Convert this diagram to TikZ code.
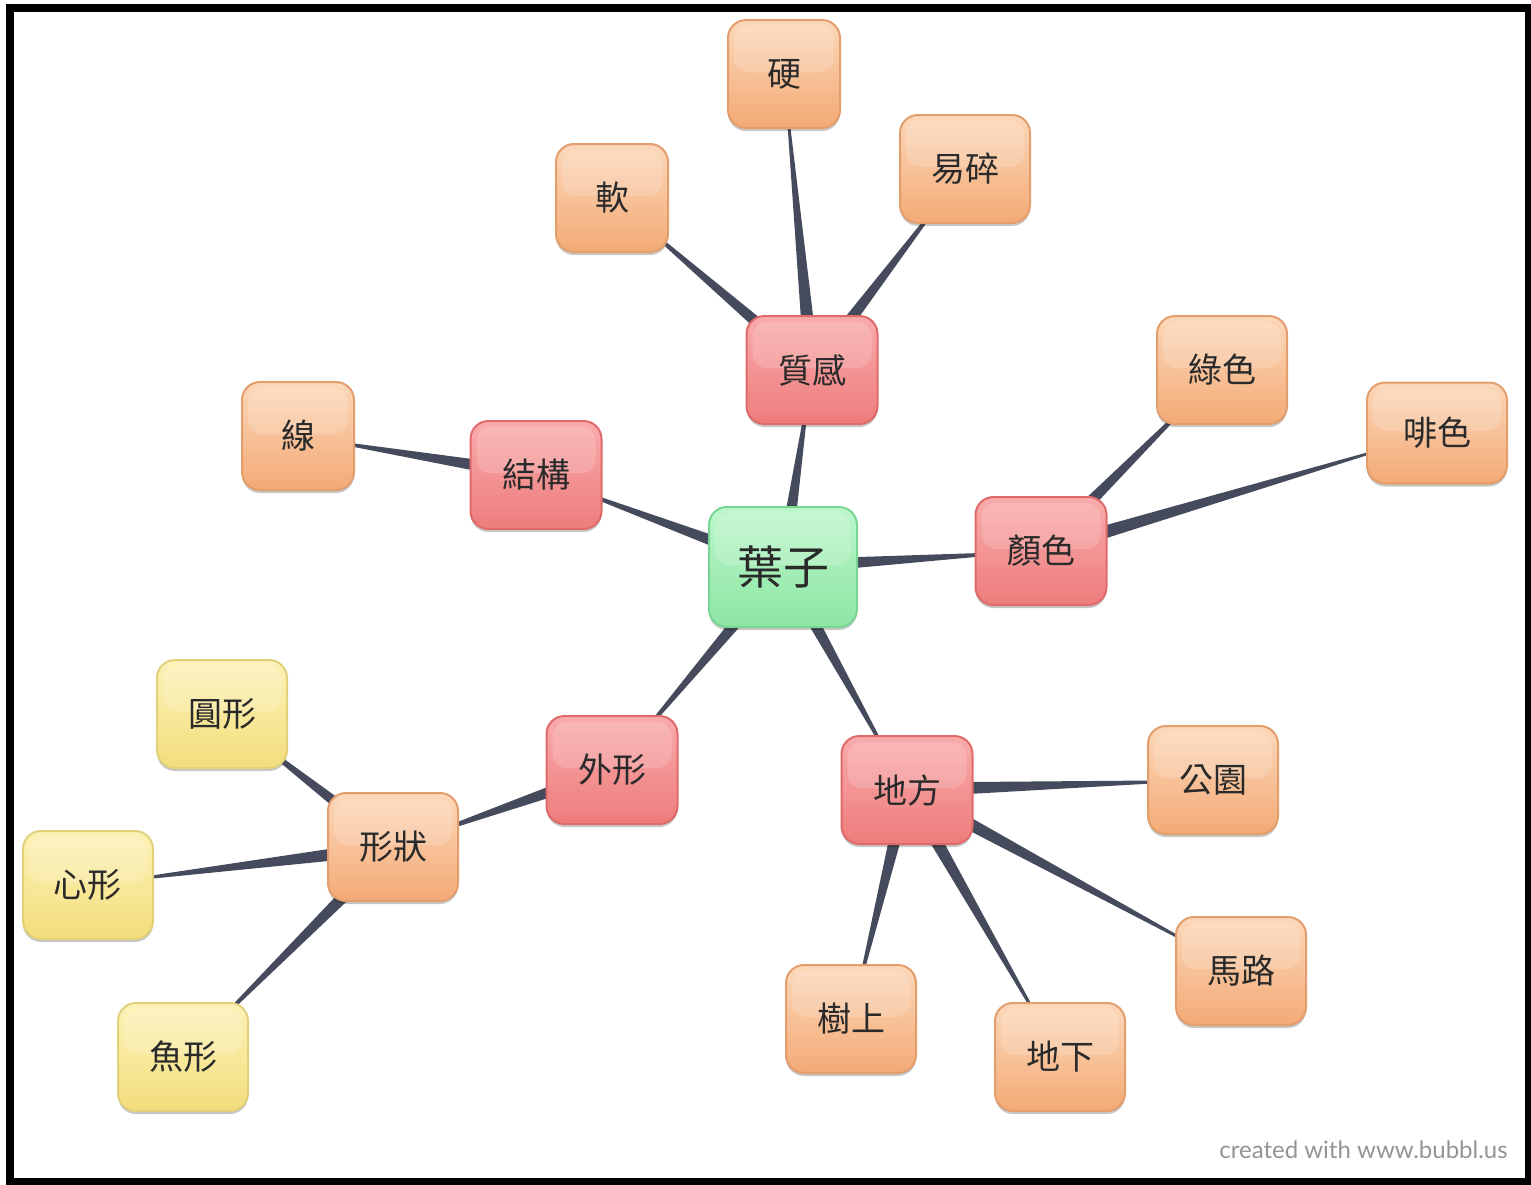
\documentclass[tikz,border=0pt]{standalone}
\usepackage{fontspec}
\newfontfamily\cjk{Noto Sans CJK TC}
\newfontfamily\latin{Lato}
\usetikzlibrary{calc,shadows}
\definecolor{gTop}{HTML}{BDF7CC}
\definecolor{gBot}{HTML}{8DE6A4}
\definecolor{gLine}{HTML}{78D692}
\definecolor{rTop}{HTML}{F9ABAB}
\definecolor{rBot}{HTML}{EE7C7C}
\definecolor{rLine}{HTML}{DF6A6A}
\definecolor{oTop}{HTML}{FCD8BA}
\definecolor{oBot}{HTML}{F3AA76}
\definecolor{oLine}{HTML}{E39E6E}
\definecolor{yTop}{HTML}{FCF2B8}
\definecolor{yBot}{HTML}{F3DE7C}
\definecolor{yLine}{HTML}{E2D07A}
\definecolor{connC}{HTML}{454B5C}
\definecolor{txtC}{HTML}{2A2A2A}
\pgfdeclarelayer{back}
\pgfdeclarelayer{bg}
\pgfsetlayers{back,bg,main}
\tikzset{
  bub/.style={rounded corners=9pt, minimum height=54pt, inner sep=0pt,
    font=\cjk\fontsize{17}{20}\selectfont, text=txtC, line width=1pt,
    drop shadow={shadow xshift=0pt, shadow yshift=-1.5pt, opacity=0.22, fill=black},
    path picture={\fill[white,opacity=0.16,rounded corners=7pt]
      ($(path picture bounding box.north west)+(3pt,-3pt)$) rectangle
      ($(path picture bounding box.east)+(-3pt,1pt)$);}},
  gbub/.style={bub, draw=gLine, top color=gTop, bottom color=gBot,
    minimum width=74pt, minimum height=60pt, font=\cjk\fontsize{23}{26}\selectfont},
  rbub/.style={bub, draw=rLine, top color=rTop, bottom color=rBot, minimum width=65.5pt},
  obub/.style={bub, draw=oLine, top color=oTop, bottom color=oBot, minimum width=65pt},
  obubs/.style={obub, minimum width=56pt},
  ybub/.style={bub, draw=yLine, top color=yTop, bottom color=yBot, minimum width=65pt},
  conn/.style={fill=connC}
}
\newcommand\wedgeline[2]{%
  \fill[conn] ($(#1.center)!3.75pt!90:(#2.center)$) --
    ($(#1.center)!3.75pt!-90:(#2.center)$) -- (#2.center) -- cycle;}
\begin{document}
\begin{tikzpicture}[x=0.5pt,y=-0.5pt]
\begin{pgfonlayer}{back}
\fill[white] (0,0) rectangle (1531,1184);
\end{pgfonlayer}
\useasboundingbox (0,0) rectangle (1531,1184);
% center
\node[gbub] (leaf) at (783,567) {葉子};
% red
\node[rbub] (zhigan) at (812,370) {質感};
\node[rbub] (jiegou) at (536,475) {結構};
\node[rbub] (yanse) at (1041,551) {顏色};
\node[rbub] (waixing) at (612,770) {外形};
\node[rbub] (difang) at (907,790) {地方};
% orange
\node[obubs] (ying) at (784,74) {硬};
\node[obubs] (ruan) at (612,198) {軟};
\node[obub] (yisui) at (965,169) {易碎};
\node[obubs] (xian) at (298,436) {線};
\node[obub] (lvse) at (1222,370) {綠色};
\node[obub, minimum width=70pt, minimum height=50.5pt] (feise) at (1437,433) {啡色};
\node[obub] (xingzhuang) at (393,847) {形狀};
\node[obub] (gongyuan) at (1213,780) {公園};
\node[obub] (malu) at (1241,971) {馬路};
\node[obub] (dixia) at (1060,1057) {地下};
\node[obub] (shushang) at (851,1019) {樹上};
% yellow
\node[ybub] (yuanxing) at (222,714) {圓形};
\node[ybub] (xinxing) at (88,885) {心形};
\node[ybub] (yuxing) at (183,1057) {魚形};
% connectors
\begin{pgfonlayer}{bg}
\wedgeline{leaf}{zhigan}
\wedgeline{leaf}{jiegou}
\wedgeline{leaf}{yanse}
\wedgeline{leaf}{waixing}
\wedgeline{leaf}{difang}
\wedgeline{zhigan}{ruan}
\wedgeline{zhigan}{ying}
\wedgeline{zhigan}{yisui}
\wedgeline{jiegou}{xian}
\wedgeline{yanse}{lvse}
\wedgeline{yanse}{feise}
\wedgeline{waixing}{xingzhuang}
\wedgeline{xingzhuang}{yuanxing}
\wedgeline{xingzhuang}{xinxing}
\wedgeline{xingzhuang}{yuxing}
\wedgeline{difang}{gongyuan}
\wedgeline{difang}{malu}
\wedgeline{difang}{dixia}
\wedgeline{difang}{shushang}
\end{pgfonlayer}
% credit
\node[anchor=east, inner sep=0pt, text=black!42, font=\latin\fontsize{12}{14}\selectfont] (credit) at (1508,1150) {created with www.bubbl.us};
% frame
\draw[line width=4pt] (10,8) rectangle (1529,1182);
\end{tikzpicture}
\end{document}
